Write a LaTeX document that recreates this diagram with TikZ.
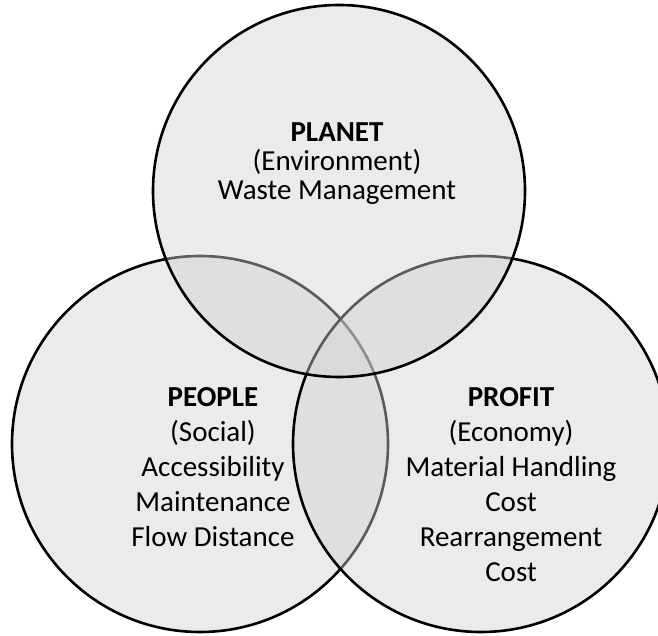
\documentclass[tikz,border=0pt]{standalone}
\usepackage{fontspec}
\setmainfont{Carlito}
\begin{document}
\begin{tikzpicture}[x=1pt,y=-1pt,
  venn/.style={draw=black,line width=2.6pt,fill=black!18,fill opacity=0.44},
  lbl/.style={align=center,font=\fontsize{29}{35}\selectfont,inner sep=0pt,anchor=north}]
\useasboundingbox (0,0) rectangle (658,636);
\begin{scope}
\clip (0,0) rectangle (658,636);
\path[venn] (200,444) circle[radius=188];
\path[venn] (481,444) circle[radius=188];
\path[venn] (339,191) circle[radius=186];
\end{scope}
\node[lbl,font=\fontsize{29}{29}\selectfont] (planet) at (337,122) {\textbf{PLANET}\\(Environment)\\Waste Management};
\node[lbl] (people) at (213,387) {\textbf{PEOPLE}\\(Social)\\Accessibility\\Maintenance\\Flow Distance};
\node[lbl] (profit) at (511,387) {\textbf{PROFIT}\\(Economy)\\Material Handling\\Cost\\Rearrangement\\Cost};
\end{tikzpicture}
\end{document}
